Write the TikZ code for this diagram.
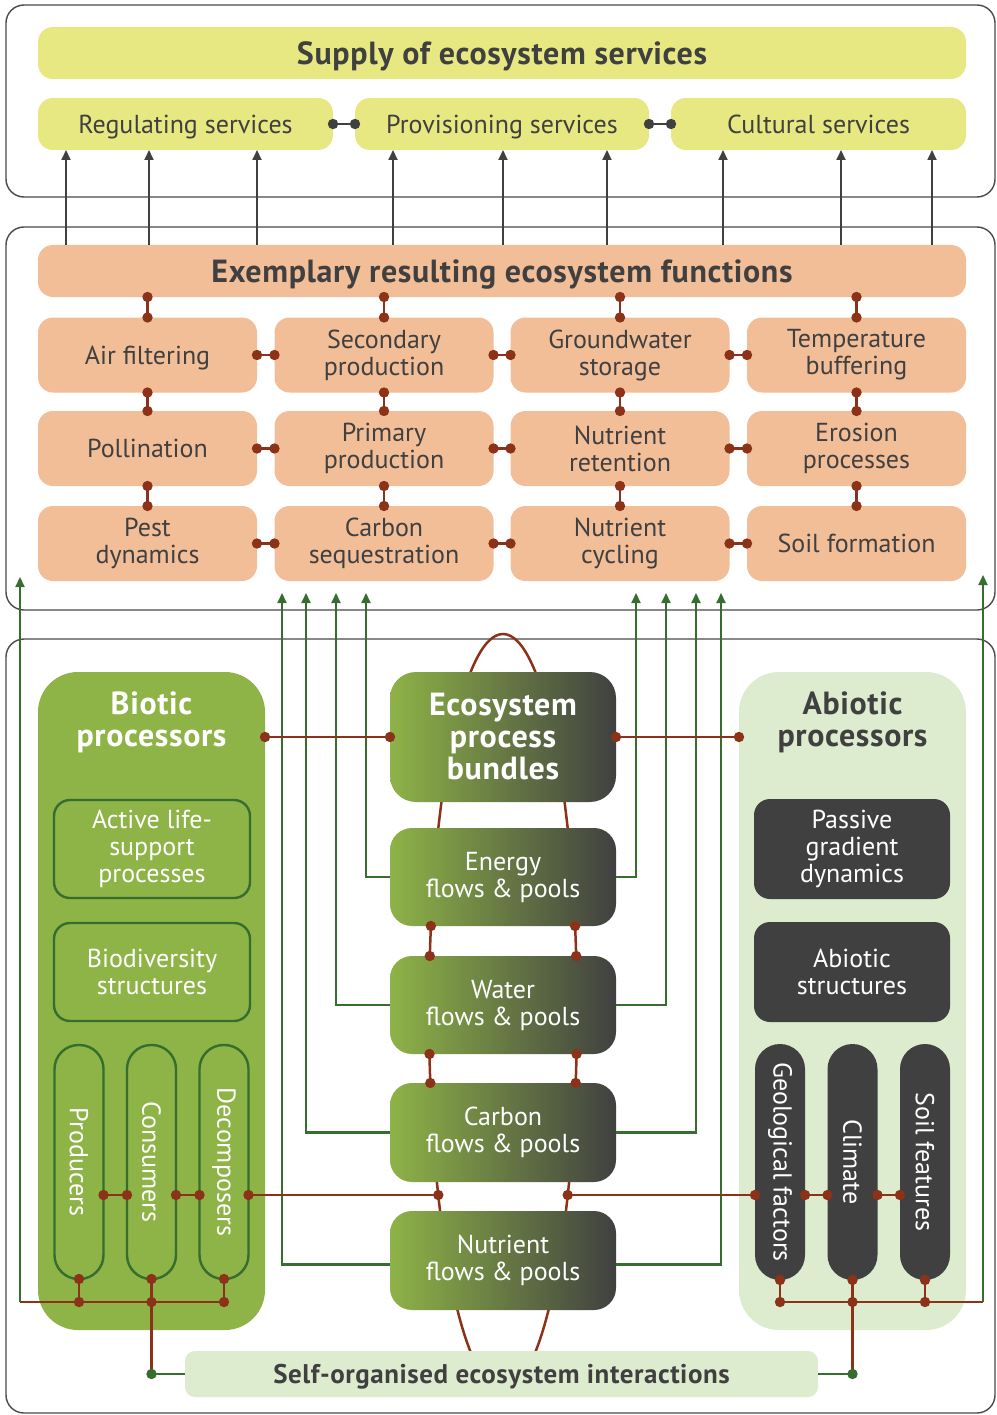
\documentclass[tikz,border=0pt]{standalone}
\usepackage{fontspec}
\setmainfont{PT Sans}
\usetikzlibrary{arrows.meta}
\definecolor{ylw}{HTML}{E8E882}
\definecolor{salm}{HTML}{F2BE98}
\definecolor{brn}{HTML}{8B3219}
\definecolor{dk}{HTML}{404040}
\definecolor{grn}{HTML}{8EB347}
\definecolor{dgrn}{HTML}{356E2F}
\definecolor{lgrn}{HTML}{DDEBCF}
\definecolor{frm}{HTML}{4A4A4A}
\newcommand\dumb[3][brn]{\draw[#1, line width=2.5pt] #2 -- #3; \fill[#1] #2 circle[radius=5.2pt] #3 circle[radius=5.2pt];}
\newcommand\bdot[1]{\fill[brn] #1 circle[radius=5.2pt];}
\begin{document}
\begin{tikzpicture}[x=1pt,y=-1pt,
 every node/.style={inner sep=0pt, outer sep=0pt, align=center},
 txtn/.style={font=\fontsize{26}{27}\selectfont},
 txtb/.style={font=\fontsize{32}{32}\selectfont\bfseries\addfontfeatures{LetterSpace=2}},
 one/.style={text height=18.4pt, text depth=0pt},
 oneb/.style={text height=22.6pt, text depth=0pt},
 ybox/.style={fill=ylw, rounded corners=15pt, text=dk, txtn, minimum height=52pt},
 fnbox/.style={fill=salm, rounded corners=15pt, text=dk, txtn, minimum width=219pt, minimum height=75pt},
 flowbox/.style={left color=grn, right color=dk, rounded corners=22pt, text=white, txtn, minimum width=226pt, minimum height=98pt},
 subg/.style={draw=dgrn, line width=2.4pt, rounded corners=16pt, text=white, txtn, minimum width=196pt, minimum height=98pt},
 subd/.style={fill=dk, rounded corners=16pt, text=white, txtn, minimum width=196pt, minimum height=100pt},
 pillg/.style={draw=dgrn, line width=2.4pt, rounded corners=24pt, text=white, txtn, minimum width=49pt, minimum height=234pt},
 pilld/.style={fill=dk, rounded corners=25pt, text=white, txtn, minimum width=50pt, minimum height=236pt},
 frame/.style={draw=frm, line width=1.4pt, rounded corners=18pt},
 sarr/.style={draw=dk, line width=1.8pt, -{Triangle[length=10pt,width=9pt]}},
 garr/.style={draw=dgrn, line width=2.1pt, -{Triangle[length=10pt,width=9pt]}},
 gl/.style={draw=dgrn, line width=2.1pt},
 bl/.style={draw=brn, line width=2.5pt}
]
\useasboundingbox[fill=white] (0,0) rectangle (996,1415);
% frames
\draw[frame] (6,5) rectangle (995,197);
\draw[frame] (6,227) rectangle (995,610);
\draw[frame] (6,639) rectangle (995,1413);
% ellipse behind the bundles
\draw[bl] (503,1012) ellipse [x radius=74pt, y radius=378pt];

% supply
\node[ybox, txtb, oneb, minimum width=928pt] (supply) at (502,53) {Supply of ecosystem services};
\node[ybox, one, minimum width=295pt] (reg) at (185.5,124) {Regulating services};
\node[ybox, one, minimum width=294pt] (prov) at (502,124) {Provisioning services};
\node[ybox, one, minimum width=295pt] (cult) at (818.5,124) {Cultural services};

% functions
\node[fill=salm, rounded corners=15pt, text=dk, txtb, oneb, minimum width=928pt, minimum height=52pt] (exem) at (502,271) {Exemplary resulting ecosystem functions};
\node[fnbox, one] (f11) at (147.5,355) {Air filtering};
\node[fnbox] (f12) at (384,355) {Secondary\\production};
\node[fnbox] (f13) at (620,355) {Groundwater\\storage};
\node[fnbox] (f14) at (856.5,355) {Temperature\\buffering};
\node[fnbox, one] (f21) at (147.5,448.5) {Pollination};
\node[fnbox] (f22) at (384,448.5) {Primary\\production};
\node[fnbox] (f23) at (620,448.5) {Nutrient\\retention};
\node[fnbox] (f24) at (856.5,448.5) {Erosion\\processes};
\node[fnbox] (f31) at (147.5,543.5) {Pest\\dynamics};
\node[fnbox] (f32) at (384,543.5) {Carbon\\sequestration};
\node[fnbox] (f33) at (620,543.5) {Nutrient\\cycling};
\node[fnbox, one] (f34) at (856.5,543.5) {Soil formation};

% biotic
\node[fill=grn, rounded corners=40pt, minimum width=227pt, minimum height=658pt] (biotic) at (151.5,1001) {};
\node[text=white, txtb] (biotitle) at (151.5,722) {Biotic\\processors};
\node[subg] (active) at (152,849) {Active life-\\support\\processes};
\node[subg] (biodiv) at (152,972) {Biodiversity\\structures};
\node[pillg] (prod) at (79,1162) {\rotatebox{-90}{Producers}};
\node[pillg] (cons) at (151.5,1162) {\rotatebox{-90}{Consumers}};
\node[pillg] (decomp) at (224,1162) {\rotatebox{-90}{Decomposers}};

% abiotic
\node[fill=lgrn, rounded corners=40pt, minimum width=227pt, minimum height=658pt] (abiotic) at (852.5,1001) {};
\node[text=dk, txtb] (abiotitle) at (852.5,722) {Abiotic\\processors};
\node[subd] (passive) at (852,849) {Passive\\gradient\\dynamics};
\node[subd] (abstr) at (852,972) {Abiotic\\structures};
\node[pilld] (geo) at (780,1162) {\rotatebox{-90}{Geological factors}};
\node[pilld] (clim) at (852.5,1162) {\rotatebox{-90}{Climate}};
\node[pilld] (soil) at (925,1162) {\rotatebox{-90}{Soil features}};

% bundles
\node[flowbox, txtb, minimum height=130pt, rounded corners=26pt] (bundle) at (503,737) {Ecosystem\\process\\bundles};
\node[flowbox] (energy) at (503,877) {Energy\\flows \& pools};
\node[flowbox] (water) at (503,1005) {Water\\flows \& pools};
\node[flowbox, minimum height=99pt] (carbon) at (503,1132.5) {Carbon\\flows \& pools};
\node[flowbox, minimum height=99pt] (nutr) at (503,1260.5) {Nutrient\\flows \& pools};

% self-organised
\node[fill=lgrn, rounded corners=10pt, text=dk, font=\fontsize{27}{27}\selectfont\bfseries\addfontfeatures{LetterSpace=2}, text height=19pt, text depth=0pt, minimum width=633pt, minimum height=46pt] (self) at (501.5,1374) {Self-organised ecosystem interactions};

% grey service arrows
\foreach \x/\t [count=\i] in {66/reg,149/reg,257/reg,393/prov,503/prov,607/prov,723/cult,841/cult,932/cult}{
  \coordinate (ax\i) at (\x,0);
  \draw[sarr] (exem.north -| ax\i) -- (\t.south -| ax\i);
}
\dumb[dk]{(reg.east)}{(prov.west)}
\dumb[dk]{(prov.east)}{(cult.west)}

% function dumbbells
\foreach \c in {1,2,3,4}{
  \dumb{(exem.south -| f1\c)}{(f1\c.north)}
  \dumb{(f1\c.south)}{(f2\c.north)}
  \dumb{(f2\c.south)}{(f3\c.north)}
}
\foreach \r in {1,2,3}{
  \dumb{(f\r1.east)}{(f\r2.west)}
  \dumb{(f\r2.east)}{(f\r3.west)}
  \dumb{(f\r3.east)}{(f\r4.west)}
}

% green arrows from flows to functions
\coordinate (gl1) at (282,593); \coordinate (gl2) at (306,593);
\coordinate (gl3) at (336,593); \coordinate (gl4) at (366,593);
\coordinate (gr1) at (636,593); \coordinate (gr2) at (666,593);
\coordinate (gr3) at (696,593); \coordinate (gr4) at (721,593);
\draw[garr] (energy.west) -| (gl4);
\draw[garr] (water.west) -| (gl3);
\draw[garr] (carbon.west) -| (gl2);
\draw[garr] ([yshift=-4pt]nutr.west) -| (gl1);
\draw[garr] (energy.east) -| (gr1);
\draw[garr] (water.east) -| (gr2);
\draw[garr] (carbon.east) -| (gr3);
\draw[garr] ([yshift=-4pt]nutr.east) -| (gr4);

% bundle to processors
\dumb{(biotic.east |- bundle.west)}{(bundle.west)}
\dumb{(bundle.east)}{(abiotic.west |- bundle.east)}

% dots where ellipse meets flow boxes
\bdot{(430.9,926)} \bdot{(575.1,926)} \bdot{(429.8,956)} \bdot{(576.2,956)}
\bdot{(429.5,1054)} \bdot{(576.5,1054)} \bdot{(430.3,1083)} \bdot{(575.7,1083)}

% line at 1195
\coordinate (yb) at (0,1195);
\coordinate (el1) at (438.3,1195);
\coordinate (el2) at (567.7,1195);
\dumb{(decomp.east |- yb)}{(el1)}
\dumb{(el2)}{(geo.west |- yb)}
\dumb{(prod.east |- yb)}{(cons.west |- yb)}
\dumb{(cons.east |- yb)}{(decomp.west |- yb)}
\dumb{(geo.east |- yb)}{(clim.west |- yb)}
\dumb{(clim.east |- yb)}{(soil.west |- yb)}

% bottom junctions
\coordinate (yh) at (0,1302);
\coordinate (lj) at (20,1302);
\coordinate (rj) at (983,1302);
\coordinate (tl) at (20,577);
\coordinate (tr) at (983,575);
\draw[garr] (lj) -- (tl);
\draw[garr] (rj) -- (tr);
\draw[gl] (self.west) -- (cons.south |- self.west);
\draw[gl] (self.east) -- (clim.south |- self.east);
\draw[bl] (lj) -- (decomp.south |- yh);
\draw[bl] (geo.south |- yh) -- (rj);
\draw[bl] (cons.south |- yh) -- (cons.south |- self.west);
\draw[bl] (clim.south |- yh) -- (clim.south |- self.east);
\foreach \p in {prod,cons,decomp,geo,clim,soil}{
  \dumb{(\p.south)}{(\p.south |- yh)}
}
\fill[dgrn] (cons.south |- self.west) circle[radius=5.2pt];
\fill[dgrn] (clim.south |- self.east) circle[radius=5.2pt];
\end{tikzpicture}
\end{document}
